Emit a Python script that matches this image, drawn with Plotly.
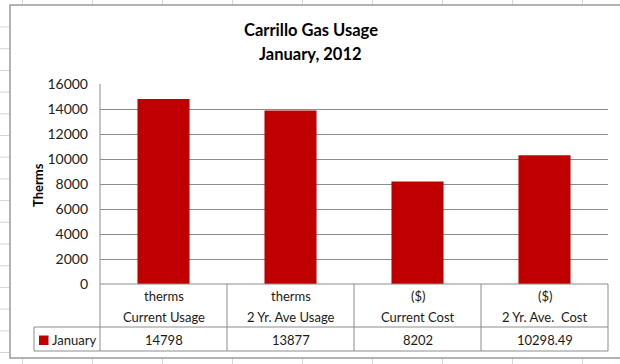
import plotly.graph_objects as go

# ---- data ----
categories = ["Current Usage", "2 Yr. Ave Usage", "Current Cost", "2 Yr. Ave.&nbsp; Cost"]
units = ["therms", "therms", "($)", "($)"]
series_name = "January"
values = [14798, 13877, 8202, 10298.49]
y_ticks = [0, 2000, 4000, 6000, 8000, 10000, 12000, 14000, 16000]

W, H = 620, 364
def X(px):
    return px / W
def Y(py):
    return 1 - py / H

BAR = "#C00000"
GRID = "#8c8c8c"
SHEET = "#d6d6d6"
FONT = "Lato, Open Sans, sans-serif"
TXT = "#1a1a1a"

PL, PR, PT, PB = 100, 608, 84, 284
ROW1, ROW2 = 327, 351
TL = 34

fig = go.Figure()
fig.add_trace(go.Bar(
    x=categories, y=values, name=series_name,
    marker=dict(color=BAR, line=dict(width=0)),
    width=0.41, hoverinfo="x+y",
))

shapes = []
# spreadsheet grid behind the chart
for k in range(9):
    xv = 22.5 + 70 * k
    shapes.append(dict(type="line", xref="paper", yref="paper", x0=X(xv), x1=X(xv), y0=Y(0), y1=Y(5),
                       line=dict(color=SHEET, width=1), layer="below"))
    shapes.append(dict(type="line", xref="paper", yref="paper", x0=X(xv), x1=X(xv), y0=Y(358), y1=Y(364),
                       line=dict(color=SHEET, width=1), layer="below"))
for k in range(16):
    yv = 27 + 21.7 * k
    shapes.append(dict(type="line", xref="paper", yref="paper", x0=X(0), x1=X(10), y0=Y(yv), y1=Y(yv),
                       line=dict(color=SHEET, width=1), layer="below"))
# chart area
shapes.append(dict(type="rect", xref="paper", yref="paper", x0=X(10), x1=X(622), y0=Y(5), y1=Y(358),
                   fillcolor="white", line=dict(color="#9a9a9a", width=1.5), layer="below"))
# plot area left line
shapes.append(dict(type="line", xref="paper", yref="paper", x0=X(PL), x1=X(PL), y0=Y(PT), y1=Y(ROW2),
                   line=dict(color=GRID, width=1)))
# table lines
for yv in [PB, ROW1, ROW2]:
    x0 = PL if yv == PB else TL
    shapes.append(dict(type="line", xref="paper", yref="paper", x0=X(x0), x1=X(PR), y0=Y(yv), y1=Y(yv),
                       line=dict(color=GRID, width=1)))
shapes.append(dict(type="line", xref="paper", yref="paper", x0=X(TL), x1=X(TL), y0=Y(ROW1), y1=Y(ROW2),
                   line=dict(color=GRID, width=1)))
for i in range(len(categories)):
    xv = PL + (PR - PL) * (i + 1) / len(categories)
    shapes.append(dict(type="line", xref="paper", yref="paper", x0=X(xv), x1=X(xv), y0=Y(PB), y1=Y(ROW2),
                       line=dict(color=GRID, width=1)))
# legend key
shapes.append(dict(type="rect", xref="paper", yref="paper", x0=X(39), x1=X(48.5), y0=Y(335.5), y1=Y(345),
                   fillcolor=BAR, line=dict(width=0)))

def A(text, x, y, xref="paper", size=12, color=TXT, xanchor="center", **kw):
    return dict(text=text, x=x, y=y, xref=xref, yref="paper", showarrow=False,
                xanchor=xanchor, yanchor="middle", font=dict(family=FONT, size=size, color=color), **kw)

ann = []
ann.append(A("<b>Carrillo Gas Usage</b>", X(310.5), Y(30), size=16.5, color="#000"))
ann.append(A("<b>January, 2012</b>", X(310.5), Y(54), size=16.5, color="#000"))
ann.append(A("<b>Therms</b>", X(38), Y(185), size=13, color="#000", textangle=-90))
for c, u, v in zip(categories, units, values):
    ann.append(A(u, c, Y(296), xref="x", size=13))
    ann.append(A(c, c, Y(317), xref="x", size=13))
    ann.append(A(str(v), c, Y(339.5), xref="x", size=13))
ann.append(A(series_name, X(49.5), Y(340), size=13, xanchor="left"))

fig.update_layout(
    width=W, height=H,
    margin=dict(l=0, r=0, t=0, b=0),
    paper_bgcolor="white", plot_bgcolor="rgba(0,0,0,0)",
    showlegend=False,
    bargap=0.59,
    shapes=shapes, annotations=ann,
    xaxis=dict(domain=[X(PL), X(PR)], showticklabels=False, showgrid=False, zeroline=False,
               showline=False, ticks="", fixedrange=True, automargin=False),
    yaxis=dict(domain=[Y(PB), Y(PT)], range=[0, 16000], tickvals=y_ticks,
               ticktext=[str(t) for t in y_ticks], showgrid=True, gridcolor=GRID, gridwidth=1,
               zeroline=False, showline=False, ticks="", ticklabelstandoff=11,
               tickfont=dict(family=FONT, size=14, color="#222"), automargin=False, fixedrange=True),
    font=dict(family=FONT),
)

fig.write_html("out.html")
